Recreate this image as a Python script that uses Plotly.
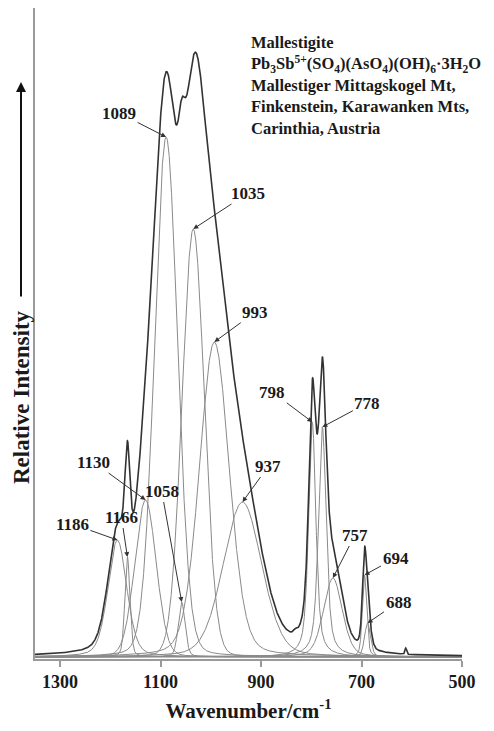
import numpy as np
import plotly.graph_objects as go

# Band-fit components of the Raman spectrum (wavenumber, height, FWHM, Lorentzian fraction)
band_centres = [1186, 1166, 1130, 1089, 1058, 1035, 993, 937, 798, 778, 757, 694, 688]
band_heights = [117, 100, 157, 520, 55, 428, 315, 155, 235, 230, 79, 82, 34]
band_fwhm = [44, 12, 50, 54, 16, 52, 70, 90, 17, 18, 44, 10, 14]
band_eta = [0.3, 0.3, 0.1, 0.1, 0.3, 0.05, 0.2, 0.2, 0.6, 0.6, 0.3, 0.4, 0.3]

# Weak unfitted features present only in the measured trace
minor_centres = [832, 612]
minor_heights = [3, 6]
minor_fwhm = [8, 4]

# Label placement relative to each arrow tip (pixels)
label_dx = [-45, -6, -52, -47, -20, 55, 41, 26, -40, 45, 22, 31, 31]
label_dy = [-16, -40, -38, -24, -111, -36, -30, -36, -30, -24, -43, -17, -21]

x_ticks = [1300, 1100, 900, 700, 500]
x_range = [1350, 500]
y_range = [-2, 649]

info_lines = [
    "Mallestigite",
    "Pb<sub>3</sub>Sb<sup>5+</sup>(SO<sub>4</sub>)(AsO<sub>4</sub>)(OH)<sub>6</sub>·3H<sub>2</sub>O",
    "Mallestiger Mittagskogel Mt,",
    "Finkenstein, Karawanken Mts,",
    "Carinthia, Austria",
]

wn = np.linspace(x_range[0], x_range[1], 3401)


def pseudo_voigt(x, c, h, w, eta):
    g = np.exp(-4 * np.log(2) * ((x - c) / w) ** 2)
    l = 1.0 / (1.0 + ((x - c) / (w / 2)) ** 2)
    return h * ((1 - eta) * g + eta * l)


components = [pseudo_voigt(wn, c, h, w, e)
              for c, h, w, e in zip(band_centres, band_heights, band_fwhm, band_eta)]
minor = [pseudo_voigt(wn, c, h, w, 0.0)
         for c, h, w in zip(minor_centres, minor_heights, minor_fwhm)]
envelope = np.sum(components, axis=0) + np.sum(minor, axis=0)

fig = go.Figure()
for comp in components:
    fig.add_trace(go.Scatter(x=wn, y=comp, mode="lines",
                             line=dict(color="#8a8a8a", width=1), hoverinfo="skip"))
fig.add_trace(go.Scatter(x=wn, y=envelope, mode="lines",
                         line=dict(color="#333333", width=1.6), hoverinfo="skip"))

serif = "Liberation Serif"
ink = "#1a1a1a"

annotations = []
for c, h, dx, dy in zip(band_centres, band_heights, label_dx, label_dy):
    annotations.append(dict(
        x=c, y=h, xref="x", yref="y", text=str(c), showarrow=True,
        ax=dx, ay=dy, arrowhead=2, arrowsize=1, arrowwidth=1, arrowcolor="#333333",
        font=dict(family=serif, size=17, color=ink, weight="bold"), standoff=0,
    ))


# plot area spans x 35..462 px and y 8..659 px
def px_to_paper(px, py):
    return (px - 35) / 427, (659 - py) / 651


xp, yp = px_to_paper(249, 31)
annotations.append(dict(
    x=xp, y=yp, xref="paper", yref="paper", text="<br>".join(info_lines),
    showarrow=False, xanchor="left", yanchor="top", align="left",
    font=dict(family=serif, size=16.5, color=ink, weight="bold"),
))

# vertical axis caption with an upward arrow
xp, yp = px_to_paper(21, 397)
annotations.append(dict(
    x=xp, y=yp, xref="paper", yref="paper", text="Relative Intensity",
    showarrow=False, textangle=-90, xanchor="center", yanchor="middle",
    font=dict(family=serif, size=23, color=ink, weight="bold"),
))
xa, ya = px_to_paper(21, 82)
annotations.append(dict(
    x=xa, y=ya, xref="paper", yref="paper", text="", showarrow=True,
    ax=0, ay=216, arrowhead=2, arrowsize=1, arrowwidth=2, arrowcolor="#111111",
))

fig.update_layout(
    width=494, height=731,
    margin=dict(l=35, r=32, t=8, b=72),
    paper_bgcolor="white", plot_bgcolor="white",
    showlegend=False,
    annotations=annotations,
    xaxis=dict(
        range=x_range, tickvals=x_ticks, ticktext=[str(t) for t in x_ticks],
        showline=True, linecolor="#9a9a9a", linewidth=1.5,
        ticks="outside", ticklen=6, tickwidth=1.5, tickcolor="#9a9a9a",
        showgrid=False, zeroline=False,
        tickfont=dict(family=serif, size=18, color=ink, weight="bold"),
        title=dict(text="Wavenumber/cm<sup>-1</sup>", standoff=12,
                   font=dict(family=serif, size=21, color=ink, weight="bold")),
    ),
    yaxis=dict(
        range=y_range, showline=True, linecolor="#9a9a9a", linewidth=1.5,
        showticklabels=False, ticks="", showgrid=False, zeroline=False,
    ),
)

fig.write_html("out.html")
